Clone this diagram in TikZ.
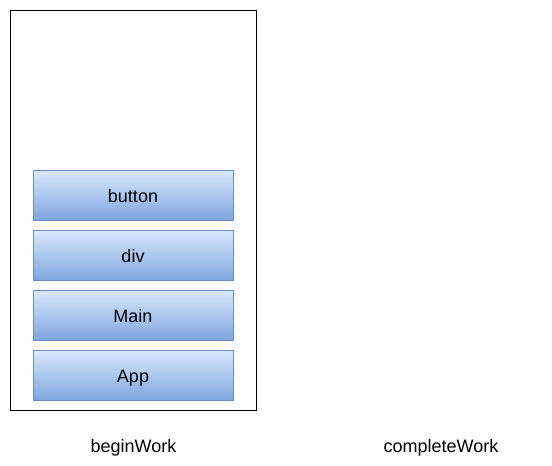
\documentclass[tikz,border=0pt]{standalone}
\usepackage{fontspec}
\setmainfont{Liberation Sans}
\definecolor{gtop}{HTML}{DAE8FC}
\definecolor{gbot}{HTML}{7EA6E0}
\definecolor{gborder}{HTML}{6C8EBF}
\begin{document}
\begin{tikzpicture}[x=1pt,y=-1pt,
  fiber/.style={draw=gborder,top color=gtop,bottom color=gbot,minimum width=200pt,minimum height=50pt,inner sep=0pt},
  txt/.style={font=\fontsize{18}{20}\selectfont,anchor=base,inner sep=0pt}]
\useasboundingbox[fill=white] (0,0) rectangle (552,466);
\node[draw=black,minimum width=246pt,minimum height=400pt,inner sep=0pt] (frame) at (133,210) {};
\node[fiber] (button) at (133,195) {};
\node[fiber] (div) at (133,255) {};
\node[fiber] (main) at (133,315) {};
\node[fiber] (app) at (133,375) {};
\node[txt] (tbutton) at (133,202) {button};
\node[txt] (tdiv) at (133,262) {div};
\node[txt] (tmain) at (133,322) {Main};
\node[txt] (tapp) at (133,382) {App};
\node[txt] (begin) at (133.5,452) {beginWork};
\node[txt] (complete) at (441,452) {completeWork};
\end{tikzpicture}
\end{document}
